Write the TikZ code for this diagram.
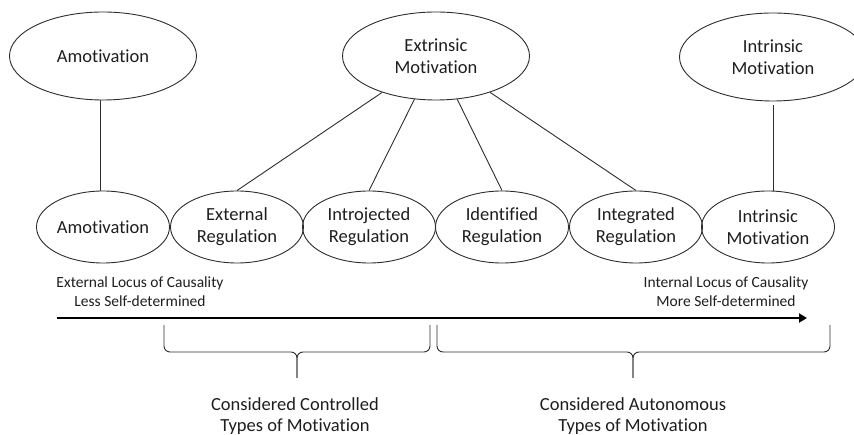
\documentclass[tikz,border=0pt]{standalone}
\usepackage{fontspec}
\setmainfont{Carlito}[Ligatures=NoCommon]
\usetikzlibrary{shapes.geometric,arrows.meta}
\definecolor{linec}{RGB}{45,45,45}
\definecolor{txtc}{RGB}{30,30,30}
\begin{document}
\begin{tikzpicture}[x=1pt,y=-1pt,
  ell/.style={draw=linec, line width=0.9pt, ellipse, inner sep=0pt, align=center,
              font=\fontsize{18.5}{22}\selectfont, text=txtc},
  bigell/.style={ell, minimum width=187pt, minimum height=88pt},
  smallell/.style={ell, minimum width=133pt, minimum height=72pt},
  conn/.style={draw=linec, line width=0.9pt},
  axis/.style={draw=black, line width=2.2pt, -{Triangle[length=8pt,width=9pt]}},
  bracestyle/.style={draw=linec, line width=0.9pt, rounded corners=6pt},
  locus/.style={align=center, font=\fontsize{15.5}{19}\selectfont, text=txtc, inner sep=0pt},
  grouplbl/.style={align=center, font=\fontsize{18.5}{21.5}\selectfont, text=txtc, inner sep=0pt}
]
\useasboundingbox (0,0) rectangle (854,435);

% top row
\node[bigell] (amoT) at (103,56) {Amotivation};
\node[bigell] (ext)  at (436,56) {Extrinsic\\Motivation};
\node[bigell] (intT) at (773,57) {Intrinsic\\Motivation};

% bottom row
\node[smallell] (amoB) at (103,227) {Amotivation};
\node[smallell] (extR) at (237,227) {External\\Regulation};
\node[smallell] (intrR) at (369,227) {Introjected\\Regulation};
\node[smallell] (idR) at (502,227) {Identified\\Regulation};
\node[smallell] (integR) at (636,227) {Integrated\\Regulation};
\node[smallell] (intB) at (768,227) {Intrinsic\\Motivation};

% connectors
\draw[conn] (amoT.south -| 100,0) -- (amoB.north -| 100,0);
\draw[conn] (ext) -- (extR.north);
\draw[conn] (ext) -- (intrR.north);
\draw[conn] (ext) -- (idR.north);
\draw[conn] (ext) -- (integR.north);
\draw[conn] ([yshift=-4pt]intT.south) -- (intT.south |- intB.north);

% locus labels
\node[locus] (extLoc) at (140,292) {External Locus of Causality\\Less Self-determined};
\node[locus] (intLoc) at (726,292) {Internal Locus of Causality\\More Self-determined};

% axis arrow
\coordinate (axS) at (57,318);
\coordinate (axE) at (807,318);
\draw[axis] (axS) -- (axE);

% braces
\coordinate (b1l) at (164,325);
\coordinate (b1t) at (297,378);
\coordinate (b1r) at (430,325);
\draw[bracestyle] (b1l) |- (297,352) -- (b1t);
\draw[bracestyle] (b1t) -- (297,352) -| (b1r);
\coordinate (b2l) at (437,325);
\coordinate (b2t) at (633,378);
\coordinate (b2r) at (830,325);
\draw[bracestyle] (b2l) |- (633,352) -- (b2t);
\draw[bracestyle] (b2t) -- (633,352) -| (b2r);

% group labels
\node[grouplbl] (ctrl) at (295,416) {Considered Controlled\\Types of Motivation};
\node[grouplbl] (auto) at (633,416) {Considered Autonomous\\Types of Motivation};
\end{tikzpicture}
\end{document}
